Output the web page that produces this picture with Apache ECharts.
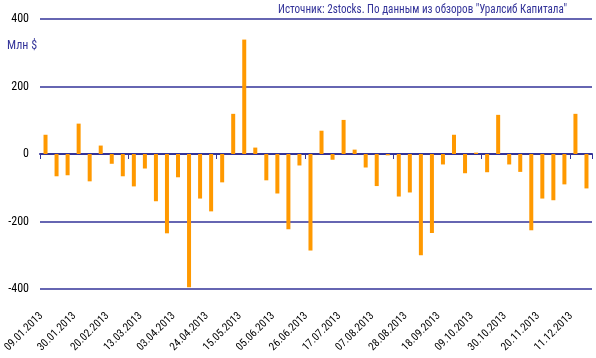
<!DOCTYPE html>
<html><head><meta charset="utf-8">
<script src="https://cdn.jsdelivr.net/npm/echarts@6/dist/echarts.min.js"></script>
<style>html,body{margin:0;padding:0;background:#fff}#c{width:596px;height:358px}</style>
</head><body><div id="c"></div>
<script>
const categories = ["09.01.2013","16.01.2013","23.01.2013","30.01.2013","06.02.2013","13.02.2013","20.02.2013","27.02.2013","06.03.2013","13.03.2013",
"20.03.2013","27.03.2013","03.04.2013","10.04.2013","17.04.2013","24.04.2013","01.05.2013","08.05.2013","15.05.2013","22.05.2013",
"29.05.2013","05.06.2013","12.06.2013","19.06.2013","26.06.2013","03.07.2013","10.07.2013","17.07.2013","24.07.2013","31.07.2013",
"07.08.2013","14.08.2013","21.08.2013","28.08.2013","04.09.2013","11.09.2013","18.09.2013","25.09.2013","02.10.2013","09.10.2013",
"16.10.2013","23.10.2013","30.10.2013","06.11.2013","13.11.2013","20.11.2013","27.11.2013","04.12.2013","11.12.2013","18.12.2013"];
const flows = [57,-66,-63,90,-81,25,-29,-66,-96,-43,
-140,-235,-69,-395,-132,-170,-84,119,339,19,
-78,-117,-223,-34,-286,69,-17,101,13,-40,
-95,-4,-126,-114,-300,-234,-31,57,-57,4,
-54,116,-31,-53,-226,-132,-137,-90,119,-102];
const yTicks = [-400,-200,0,200,400];
const titleText = 'Источник: 2stocks. По данным из обзоров "Уралсиб Капитала"';
const unitText = 'Млн $';

const NAVY = '#333399';
const FONT = '"Roboto Condensed", "Liberation Sans", Arial, sans-serif';

// fit title to the reference width
const cv = document.createElement('canvas').getContext('2d');
cv.font = '12px ' + FONT;
const tw = cv.measureText(titleText).width;
const titleScale = 289 / tw;

const chart = echarts.init(document.getElementById('c'), null, {renderer:'canvas'});
chart.setOption({
  animation:false,
  backgroundColor:'#fff',
  graphic:[
    {type:'text', x:567, y:10, scaleX:titleScale, originX:0, originY:0,
     style:{text:titleText, fill:NAVY, font:'12px '+FONT, align:'right', verticalAlign:'middle'}},
    {type:'text', x:7, y:46,
     style:{text:unitText, fill:NAVY, font:'12px '+FONT, align:'left', verticalAlign:'middle'}}
  ],
  grid:{left:40, right:4, top:19, bottom:69},
  xAxis:[
    {type:'category', data:categories, position:'bottom',
     axisLine:{show:false, onZero:false}, axisTick:{show:false},
     axisLabel:{interval:2, rotate:45, color:'#000', fontSize:11, fontFamily:FONT, margin:21, padding:[0,6,0,0]}},
    {type:'category', data:categories, position:'top',
     axisLine:{show:true, onZero:true, lineStyle:{color:NAVY, width:2}},
     axisTick:{show:true, inside:true, length:5, lineStyle:{color:NAVY, width:1}},
     axisLabel:{show:false}}
  ],
  yAxis:{type:'value', min:-400, max:400, interval:200,
    axisLine:{show:false}, axisTick:{show:false},
    axisLabel:{color:'#000', fontSize:12, fontFamily:FONT, margin:11,
      formatter:v=>yTicks.includes(v)?String(v):''},
    splitLine:{lineStyle:{color:NAVY, width:1.5}}},
  series:[{type:'bar', xAxisIndex:0, data:flows, barWidth:4,
    itemStyle:{color:'#FF9900'}}]
});
</script></body></html>
